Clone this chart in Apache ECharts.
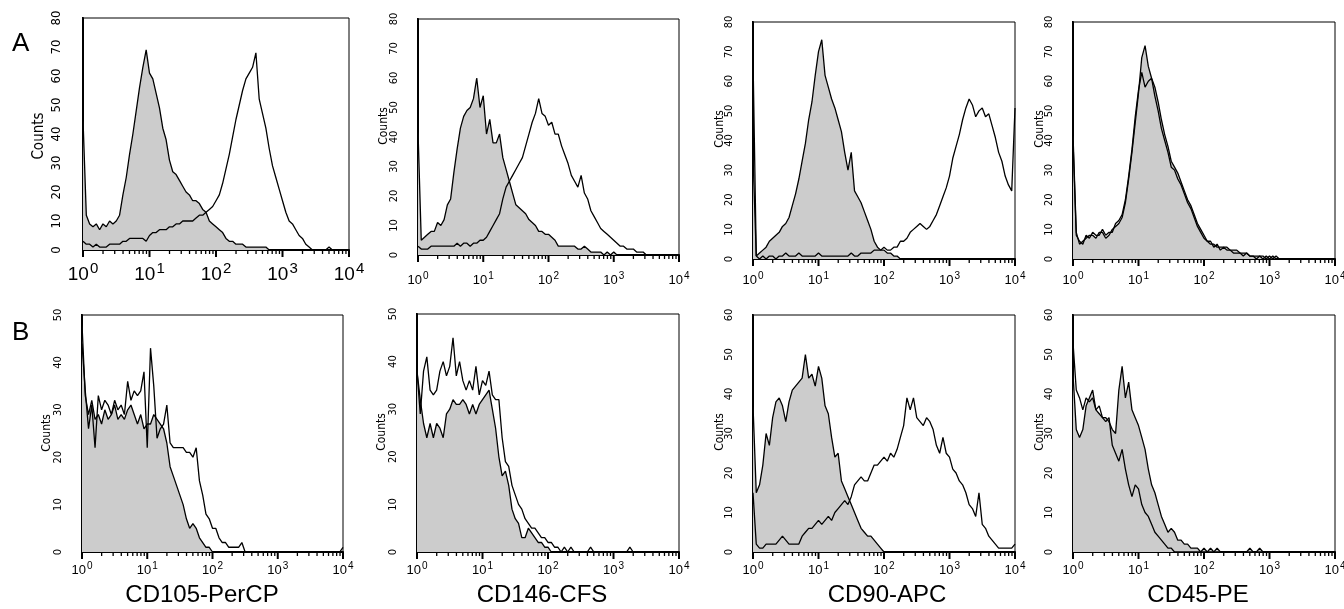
<!DOCTYPE html>
<html><head><meta charset="utf-8">
<script src="https://cdn.jsdelivr.net/npm/echarts@6/dist/echarts.min.js"></script>
<style>html,body{margin:0;padding:0;background:#fff}#c{width:1344px;height:609px}</style>
</head><body><div id="c"></div>
<script>
// log10 of fluorescence intensity (channel positions)
const logX = [0,0.05,0.1,0.15,0.2,0.25,0.3,0.35,0.4,0.45,0.5,0.55,0.6,0.65,0.7,0.75,0.8,0.85,0.9,0.95,
  1,1.05,1.1,1.15,1.2,1.25,1.3,1.35,1.4,1.45,1.5,1.55,1.6,1.65,1.7,1.75,1.8,1.85,1.9,1.95,
  2,2.05,2.1,2.15,2.2,2.25,2.3,2.35,2.4,2.45,2.5,2.55,2.6,2.65,2.7,2.75,2.8,2.85,2.9,2.95,
  3,3.05,3.1,3.15,3.2,3.25,3.3,3.35,3.4,3.45,3.5,3.55,3.6,3.65,3.7,3.75,3.8,3.85,3.9,3.95,4];

// Row A
const a1Control = [45,12,9,8,9,7,9,8,10,9, 10,12,19,25,33,40,48,56,63,69, 61,59,54,49,42,38,31,27,26,24,
  22,20,19,17,17,16,14,13,10,9, 8,7,6,4,3,3,2,2,2,1, 1,1,1,1,1,1,0,0,0,0, 0,0,0,0,0,0,0,0,0,0, 0,0,0,0,0,0,0,0,0,0, 0];
const a1Sample = [3,2,2,1,2,1,1,1,2,2, 2,2,3,3,4,4,4,4,4,3, 5,6,6,7,7,7,8,8,9,9, 10,10,10,10,11,12,12,13,14,15,
  17,19,23,28,33,39,45,50,55,59, 61,63,68,52,47,42,35,29,25,21, 17,13,10,9,7,5,4,2,1,0, 0,0,0,0,1,0,0,0,0,0, 0];
const a2Control = [42,5,6,7,8,8,11,10,12,17, 19,28,36,43,47,49,50,53,60,50, 54,41,46,38,38,41,33,29,25,21,
  17,16,15,14,12,11,10,8,8,7, 7,6,5,3,3,3,3,3,3,2, 2,3,2,1,1,1,1,0,1,0, 1,0,0,0,0,0,0,0,0,0, 0,0,0,0,0,0,0,0,0,0, 0];
const a2Sample = [3,2,2,2,3,3,3,3,3,3, 3,3,4,3,4,4,3,4,4,5, 5,6,8,10,12,14,19,23,25,27, 29,31,33,37,41,45,48,53,48,47,
  44,45,41,41,37,34,31,27,25,23, 27,21,19,15,13,11,9,8,7,6, 5,4,3,3,2,2,2,1,1,1, 0,0,0,0,0,0,0,0,0,0, 0];
const a3Control = [35,1,2,3,4,6,7,8,9,11, 12,14,18,22,27,33,39,47,53,62, 70,74,62,58,54,51,47,43,36,30,
  36,23,21,19,16,13,10,6,4,3, 3,2,2,1,1,0,0,0,0,0, 0,0,0,0,0,0,0,0,0,0, 0,0,0,0,0,0,0,0,0,0, 0,0,0,0,0,0,0,0,0,0, 0];
const a3Sample = [68,1,0,1,0,1,1,0,1,1, 2,1,1,1,2,1,1,1,1,1, 2,1,1,1,1,1,1,1,1,1, 2,1,1,2,2,2,2,3,3,3,
  4,3,3,4,4,6,6,7,9,10, 11,12,11,10,11,13,15,18,21,24, 28,34,38,42,47,51,54,52,48,50, 51,48,49,45,41,36,33,28,25,23, 51];
const a4Control = [42,9,5,6,7,8,8,7,9,9, 7,8,10,11,12,14,19,27,36,46, 56,68,72,65,61,58,53,47,42,38,
  33,31,29,26,23,20,18,15,12,10, 8,6,5,5,4,4,4,4,3,3, 3,2,2,2,1,1,1,1,0,1, 0,1,0,0,0,0,0,0,0,0, 0,0,0,0,0,0,0,0,0,0, 0];
const a4Sample = [40,8,6,5,8,7,9,8,8,10, 8,9,9,12,13,15,20,28,37,48, 57,63,58,60,61,55,50,44,40,36,
  31,30,27,25,22,19,17,14,11,9, 7,6,6,4,5,3,4,3,3,2, 2,2,1,2,1,1,0,1,1,0, 1,0,1,0,0,0,0,0,0,0, 0,0,0,0,0,0,0,0,0,0, 0];

// Row B
const b1Control = [48,33,29,32,28,29,27,30,28,29, 31,28,29,28,30,31,29,27,29,26, 27,27,29,28,27,26,23,18,16,14,
  12,10,7,5,6,5,3,2,1,1, 0,0,0,0,0,0,0,0,0,0, 0,0,0,0,0,0,0,0,0,0, 0,0,0,0,0,0,0,0,0,0, 0,0,0,0,0,0,0,0,0,0, 0];
const b1Sample = [44,34,26,31,22,33,30,32,31,29, 32,30,31,29,36,32,34,33,34,38, 22,43,35,24,26,27,31,23,22,22,
  22,22,21,21,20,22,15,12,8,7, 5,5,3,2,2,1,1,1,1,2, 0,0,0,0,0,0,0,0,0,0, 0,0,0,0,0,0,0,0,0,0, 0,0,0,0,0,0,0,0,0,0, 1];
const b2Control = [38,32,27,24,27,24,27,26,24,29, 30,32,31,31,32,31,29,31,29,31, 32,33,34,30,26,20,16,17,14,9,
  7,6,3,3,5,4,3,2,2,1, 1,0,0,0,0,0,0,0,0,0, 0,0,0,0,0,0,0,0,0,0, 0,0,0,0,0,0,0,0,0,0, 0,0,0,0,0,0,0,0,0,0, 0];
const b2Sample = [38,29,38,41,34,33,34,38,40,37, 39,45,37,40,36,34,36,34,39,33, 36,35,38,33,32,32,24,19,18,14,
  12,10,9,7,6,5,5,4,3,3, 2,2,1,1,0,1,0,1,0,0, 0,0,0,1,0,0,0,0,0,0, 0,0,0,0,0,1,0,0,0,0, 0,0,0,0,0,0,0,0,0,0, 0];
const b3Control = [37,15,17,22,30,27,34,38,39,37, 33,38,41,42,43,44,50,44,45,42, 47,44,37,35,29,24,25,18,16,14,
  12,10,8,6,5,4,4,3,2,1, 0,0,0,0,0,0,0,0,0,0, 0,0,0,0,0,0,0,0,0,0, 0,0,0,0,0,0,0,0,0,0, 0,0,0,0,0,0,0,0,0,0, 0];
const b3Sample = [15,2,1,1,2,2,2,2,3,4, 3,2,2,2,2,4,5,6,6,7, 8,7,8,9,8,10,11,12,13,12, 14,17,18,19,18,18,20,22,22,23,
  24,23,25,24,26,29,32,39,36,39, 34,33,32,34,33,31,27,25,29,25, 24,21,20,18,17,15,12,11,9,15, 7,6,4,3,2,1,1,1,1,1, 2];
const b4Control = [45,31,29,31,37,39,41,36,35,34, 34,33,31,30,41,47,39,43,36,34, 32,29,26,21,17,15,12,9,7,5,
  6,5,3,3,2,2,1,1,1,0, 1,0,1,0,1,0,0,0,0,0, 0,0,0,0,1,0,0,1,0,0, 0,0,0,0,0,0,0,0,0,0, 0,0,0,0,0,0,0,0,0,0, 0];
const b4Sample = [53,41,39,36,39,38,39,36,37,34, 33,34,27,25,23,26,21,17,14,17, 16,12,10,9,7,5,4,3,2,1,
  1,0,0,0,0,0,0,0,0,0, 0,0,0,0,0,0,0,0,0,0, 0,0,0,0,0,0,0,0,0,0, 0,0,0,0,0,0,0,0,0,0, 0,0,0,0,0,0,0,0,0,0, 0];

const xDecadeExponents = [0,1,2,3,4];
const minorMultipliers = [2,3,4,5,6,7,8,9];
const markerNames = ['CD105-PerCP','CD146-CFS','CD90-APC','CD45-PE'];
const rowLetters = ['A','B'];
const yAxisName = 'Counts';
const yMaxes = [80,80,80,80,50,50,60,60];

const controls = [a1Control,a2Control,a3Control,a4Control,b1Control,b2Control,b3Control,b4Control];
const samples = [a1Sample,a2Sample,a3Sample,a4Sample,b1Sample,b2Sample,b3Sample,b4Sample];

// layout (pixels)
const layout = [
  {l:83,t:18,w:266,h:232, yf:13, xb:19, xs:15, xm:11, ym:20, cf:15, cx:39, cy:136},
  {l:418,t:19,w:261,h:236, yf:11, xb:13, xs:10, xm:16, ym:18, cf:12, cx:384, cy:126},
  {l:753,t:22,w:262,h:237, yf:11, xb:13, xs:10, xm:12, ym:18, cf:12, cx:720, cy:129},
  {l:1073,t:22,w:262,h:237, yf:11, xb:13, xs:10, xm:12, ym:18, cf:12, cx:1040, cy:129},
  {l:82,t:315,w:261,h:237, yf:11, xb:13, xs:10, xm:9, ym:18, cf:12, cx:47, cy:433},
  {l:417,t:314,w:262,h:238, yf:11, xb:13, xs:10, xm:9, ym:18, cf:12, cx:382, cy:432},
  {l:753,t:315,w:262,h:237, yf:11, xb:13, xs:10, xm:9, ym:18, cf:12, cx:720, cy:432},
  {l:1073,t:315,w:262,h:237, yf:11, xb:13, xs:10, xm:9, ym:18, cf:12, cx:1040, cy:432}
];
const narrow = "'Liberation Sans Narrow','DejaVu Sans Condensed',sans-serif";
const sans = "'Liberation Sans',Arial,sans-serif";
const TICK_PX = {xMajor:7, xMinor:4, yMajor:6, yMinor:4};

// tick positions (log10 units for x, counts for y)
const xMinorTicks = [];
for (let d = 0; d < 4; d++) minorMultipliers.forEach(m => xMinorTicks.push(d + Math.log10(m)));

function tickSeries(k, pts, width) {
  return {type:'line', xAxisIndex:k, yAxisIndex:k, data:pts, clip:false, silent:true, z:6,
    showSymbol:false, symbol:'none', connectNulls:false,
    lineStyle:{color:'#000', width:width, cap:'butt'}};
}

const grids = [], xAxes = [], yAxes = [], series = [], graphics = [];
layout.forEach((p, k) => {
  const ymax = yMaxes[k];
  grids.push({left:p.l, top:p.t, width:p.w, height:p.h, show:true, borderColor:'#000', borderWidth:1,
    containLabel:false, outerBoundsMode:'none'});
  xAxes.push({gridIndex:k, type:'value', min:0, max:4, interval:1,
    axisLine:{show:true, onZero:false, lineStyle:{color:'#000', width:2}},
    axisTick:{show:false},
    splitLine:{show:false},
    axisLabel:{margin:p.xm, color:'#000',
      formatter: v => '{b|10}{s|' + v + '}',
      rich:{b:{fontSize:p.xb, fontFamily:sans, color:'#000'},
            s:{fontSize:p.xs, fontFamily:sans, color:'#000', padding:[0,0,Math.round(p.xb*0.7),1]}}}
  });
  yAxes.push({gridIndex:k, type:'value', min:0, max:ymax, interval:10,
    axisLine:{show:true, onZero:false, lineStyle:{color:'#000', width:2}},
    axisTick:{show:false}, minorTick:{show:false},
    splitLine:{show:false}, minorSplitLine:{show:false},
    axisLabel:{rotate:90, margin:p.ym, fontSize:p.yf, fontFamily:narrow, color:'#000'}
  });
  series.push({type:'line', xAxisIndex:k, yAxisIndex:k, showSymbol:false, symbol:'none',
    data: logX.map((x, i) => [x, controls[k][i]]),
    lineStyle:{color:'#000', width:1.3}, areaStyle:{color:'#cccccc', opacity:1}, z:2, silent:true});
  series.push({type:'line', xAxisIndex:k, yAxisIndex:k, showSymbol:false, symbol:'none',
    data: logX.map((x, i) => [x, samples[k][i]]),
    lineStyle:{color:'#000', width:1.3}, z:3, silent:true});

  // tick marks as short segments in data space (pixel lengths converted by the panel size)
  const dyMaj = TICK_PX.xMajor * ymax / p.h, dyMin = TICK_PX.xMinor * ymax / p.h;
  const dxMaj = TICK_PX.yMajor * 4 / p.w, dxMin = TICK_PX.yMinor * 4 / p.w;
  const majorPts = [], minorPts = [];
  xDecadeExponents.forEach(v => { majorPts.push([v, 0], [v, -dyMaj], [v, '-']); });
  xMinorTicks.forEach(v => { minorPts.push([v, 0], [v, -dyMin], [v, '-']); });
  for (let v = 0; v <= ymax; v += 2) {
    if (v % 10 === 0) majorPts.push([0, v], [-dxMaj, v], ['-', v]);
    else minorPts.push([0, v], [-dxMin, v], ['-', v]);
  }
  series.push(tickSeries(k, majorPts, 2));
  series.push(tickSeries(k, minorPts, 1.3));

  graphics.push({type:'text', x:p.cx, y:p.cy, rotation:Math.PI/2,
    style:{text:yAxisName, font:p.cf + 'px ' + narrow, fill:'#000', textAlign:'center', textVerticalAlign:'middle'}});
});

graphics.push({type:'text', x:12, y:44, style:{text:rowLetters[0], font:'26px ' + sans, fill:'#000', textAlign:'left', textVerticalAlign:'middle'}});
graphics.push({type:'text', x:12, y:333, style:{text:rowLetters[1], font:'26px ' + sans, fill:'#000', textAlign:'left', textVerticalAlign:'middle'}});
const labelCenters = [202, 542, 887, 1198];
markerNames.forEach((n, i) => {
  graphics.push({type:'text', x:labelCenters[i], y:595, style:{text:n, font:'24px ' + sans, fill:'#000', textAlign:'center', textVerticalAlign:'middle'}});
});

const chart = echarts.init(document.getElementById('c'), null, {renderer:'canvas'});
chart.setOption({
  animation:false,
  backgroundColor:'#fff',
  grid:grids, xAxis:xAxes, yAxis:yAxes, series:series, graphic:graphics
});
</script></body></html>
